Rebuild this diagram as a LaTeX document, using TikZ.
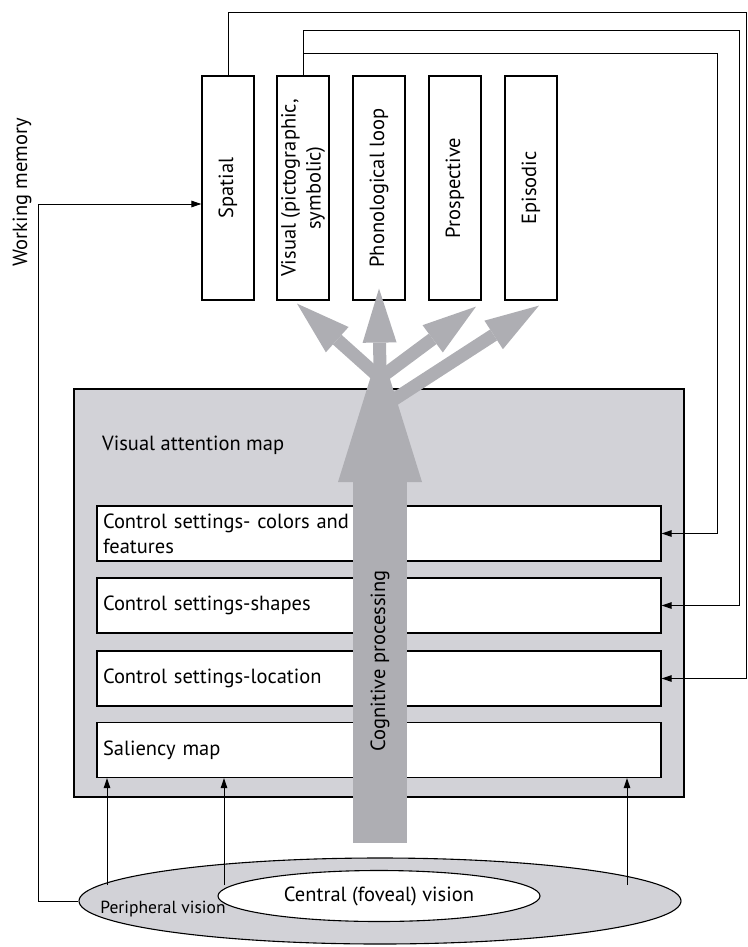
\documentclass[tikz,border=0pt]{standalone}
\usepackage{fontspec}
\setmainfont{PT Sans}
\usepackage{graphicx}
\usetikzlibrary{arrows.meta,shapes.geometric}
\definecolor{mapgrey}{HTML}{D2D2D7}
\definecolor{flowgrey}{HTML}{AEAEB3}
\begin{document}
\begin{tikzpicture}[x=1pt,y=-1pt,
      font=\fontsize{20.5pt}{25pt}\selectfont,
      membox/.style={draw,line width=1.2pt,fill=white,minimum width=52pt,minimum height=224pt,inner sep=0pt},
      ctrlbox/.style={draw,line width=1.2pt,fill=white,minimum height=55pt,text width=552pt,align=left,inner xsep=6pt,inner ysep=0pt},
      link/.style={line width=1pt,-{Triangle[length=10pt,width=6.5pt]}},
      flow/.style={flowgrey,line width=13pt,-{Triangle[length=54pt,width=34pt,line width=0pt]}}]
    \useasboundingbox (0,0) rectangle (747,947);
    % working memory stores
    \foreach \n/\x/\lbl in {spatial/228/Spatial, visual/303/{Visual (pictographic,\\symbolic)},
        phono/379/Phonological loop, prosp/455/Prospective, episodic/531/Episodic}
        \node[membox] (\n) at (\x,188) {\rotatebox{90}{\begin{tabular}{@{}c@{}}\lbl\end{tabular}}};
    \node[rotate=90] (wmtext) at (22,192) {Working memory};
    % visual attention map
    \node[draw,line width=1.2pt,fill=mapgrey,minimum width=610pt,minimum height=408pt] (map) at (379,593) {};
    \node[anchor=west,inner sep=0pt] (maptitle) at (102,445) {Visual attention map};
    \node[ctrlbox] (colors) at (379,533.5) {Control settings- colors and\\features};
    \node[ctrlbox] (shapes) at (379,605.5) {Control settings-shapes};
    \node[ctrlbox] (location) at (379,678.5) {Control settings-location};
    \node[ctrlbox] (saliency) at (379,750) {Saliency map};
    % vision
    \node[ellipse,draw,line width=1.1pt,fill=mapgrey,minimum width=602pt,minimum height=86pt,inner sep=0pt] (periph) at (380,901) {};
    \node[ellipse,draw,line width=1.1pt,fill=white,minimum width=322pt,minimum height=51pt,inner sep=0pt] (fovea) at (379,896) {Central (foveal) vision};
    \node[font=\fontsize{17.5pt}{20pt}\selectfont] (periphtext) at (163,909) {Peripheral vision};
    % cognitive processing
    \draw[flowgrey,line width=54pt,-{Triangle[length=135pt,width=84pt,line width=0pt]}] (380,843) -- (380,347);
    \coordinate (fork) at (380,378);
    \coordinate (fork2) at (390,402);
    \draw[flow] (fork) -- ([shift={(-6pt,-3pt)}]visual.south);
    \draw[flow] (fork) -- ([yshift=12pt]phono.south);
    \draw[flow] (fork) -- ([shift={(21pt,-6pt)}]prosp.south);
    \draw[flow] (fork2) -- ([shift={(8pt,-5pt)}]episodic.south);
    \node[rotate=90] (cogtext) at (380,661) {Cognitive processing};
    % feedback
    \coordinate (fb1) at (746,13);
    \coordinate (fb2) at (739,31);
    \coordinate (fb3) at (717,54);
    \draw[link] (spatial.north) |- (fb1) |- (location.east);
    \draw[link] (visual.north) |- (fb2) |- (shapes.east);
    \draw[link] (visual.north) |- (fb3) |- (colors.east);
    \draw[link] (periph.west) -- ++(-40,0) |- ([yshift=-16pt]spatial.west);
    \coordinate (in1) at (107,885);
    \coordinate (in2) at (224,885);
    \coordinate (in3) at (627,885);
    \foreach \c in {in1,in2,in3}
        \draw[link] (\c) -- (\c |- saliency.south);
\end{tikzpicture}
\end{document}
